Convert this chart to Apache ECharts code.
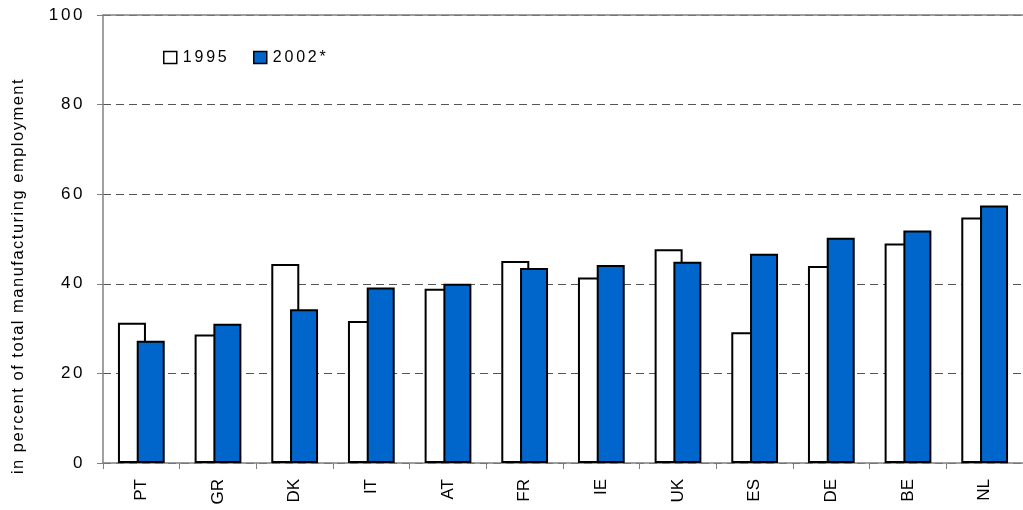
<!DOCTYPE html>
<html><head><meta charset="utf-8">
<script src="https://cdn.jsdelivr.net/npm/echarts@6/dist/echarts.min.js"></script>
<style>html,body{margin:0;padding:0;background:#fff}#c{width:1023px;height:510px}</style>
</head><body><div id="c"></div>
<script>
const categories = ['PT','GR','DK','IT','AT','FR','IE','UK','ES','DE','BE','NL'];
const values1995 = [31.3, 28.7, 44.4, 31.7, 38.9, 45.1, 41.4, 47.7, 29.2, 44.0, 49.0, 54.8];
const values2002 = [27.3, 31.1, 34.3, 39.2, 40.0, 43.5, 44.2, 44.9, 46.7, 50.3, 51.9, 57.5];
const yTicks = [0, 20, 40, 60, 80, 100];
const seriesNames = ['1995', '2002*'];
const axisTitle = 'in percent of total manufacturing employment';

// Wider letter spacing as in the reference (texts using the plain "Liberation Sans" family)
(function () {
  const proto = CanvasRenderingContext2D.prototype;
  const fT = proto.fillText, sT = proto.strokeText, mT = proto.measureText;
  const bySize = {'16px': '2.8px', '16.5px': '1.5px', '17px': '2.6px'};
  function ls(ctx) {
    try {
      const f = ctx.font || '';
      let v = '0px';
      if (f.indexOf('Arial') < 0 && f.indexOf('Liberation') >= 0) {
        const m = f.match(/([\d.]+px)/);
        v = (m && bySize[m[1]]) || '2.6px';
      }
      ctx.letterSpacing = v;
    } catch (e) {}
  }
  proto.fillText = function () { ls(this); return fT.apply(this, arguments); };
  proto.strokeText = function () { ls(this); return sT.apply(this, arguments); };
  proto.measureText = function () { ls(this); return mT.apply(this, arguments); };
})();

const spaced = '"Liberation Sans"';
const plain = '"Liberation Sans", Arial';
const chart = echarts.init(document.getElementById('c'), null, {renderer: 'canvas'});
chart.setOption({
  animation: false,
  textStyle: {fontFamily: spaced, color: '#000'},
  legend: [{
    left: 163, top: 48, padding: 0, itemWidth: 13, itemHeight: 12, icon: 'rect',
    textStyle: {fontSize: 16, fontFamily: spaced, color: '#000', padding: [0,0,0,1]},
    itemStyle: {borderWidth: 1.5},
    data: [seriesNames[0]]
  }, {
    left: 253, top: 48, padding: 0, itemWidth: 13, itemHeight: 12, icon: 'rect',
    textStyle: {fontSize: 16, fontFamily: spaced, color: '#000', padding: [0,0,0,1]},
    itemStyle: {borderWidth: 1.5},
    data: [seriesNames[1]]
  }],
  grid: {left: 103, right: -7, top: 15, bottom: 47, containLabel: false},
  xAxis: [{
    type: 'category', data: categories,
    axisLine: {lineStyle: {color: '#808080', width: 1.5}},
    axisTick: {show: true, length: 6, lineStyle: {color: '#808080'}},
    axisLabel: {rotate: 90, fontSize: 17, color: '#000', margin: 16, fontFamily: plain}
  }, {
    type: 'category', data: categories, position: 'top',
    axisLine: {show: true, lineStyle: {color: '#808080', width: 1.5}},
    axisTick: {show: false}, axisLabel: {show: false}
  }],
  yAxis: {
    type: 'value', min: yTicks[0], max: yTicks[yTicks.length-1], interval: 20,
    axisLine: {show: true, lineStyle: {color: '#808080', width: 1.5}},
    axisTick: {show: true, length: 6, lineStyle: {color: '#808080'}},
    axisLabel: {fontSize: 17, color: '#000', margin: 18, fontFamily: spaced},
    splitLine: {show: true, lineStyle: {color: '#555', type: [8, 5], width: 1}}
  },
  graphic: [{
    type: 'text', x: 18.5, y: 276, rotation: Math.PI / 2,
    style: {text: axisTitle, fill: '#000', fontSize: 16.5, fontFamily: spaced, align: 'center', verticalAlign: 'middle'}
  }],
  series: [{
    name: seriesNames[0], type: 'bar', data: values1995, barWidth: 28, barGap: '-33%',
    itemStyle: {color: '#ffffff', borderColor: '#000', borderWidth: 2}
  }, {
    name: seriesNames[1], type: 'bar', data: values2002, barWidth: 28, barGap: '-33%',
    itemStyle: {color: '#0066CC', borderColor: '#000', borderWidth: 2}
  }]
});
</script></body></html>
